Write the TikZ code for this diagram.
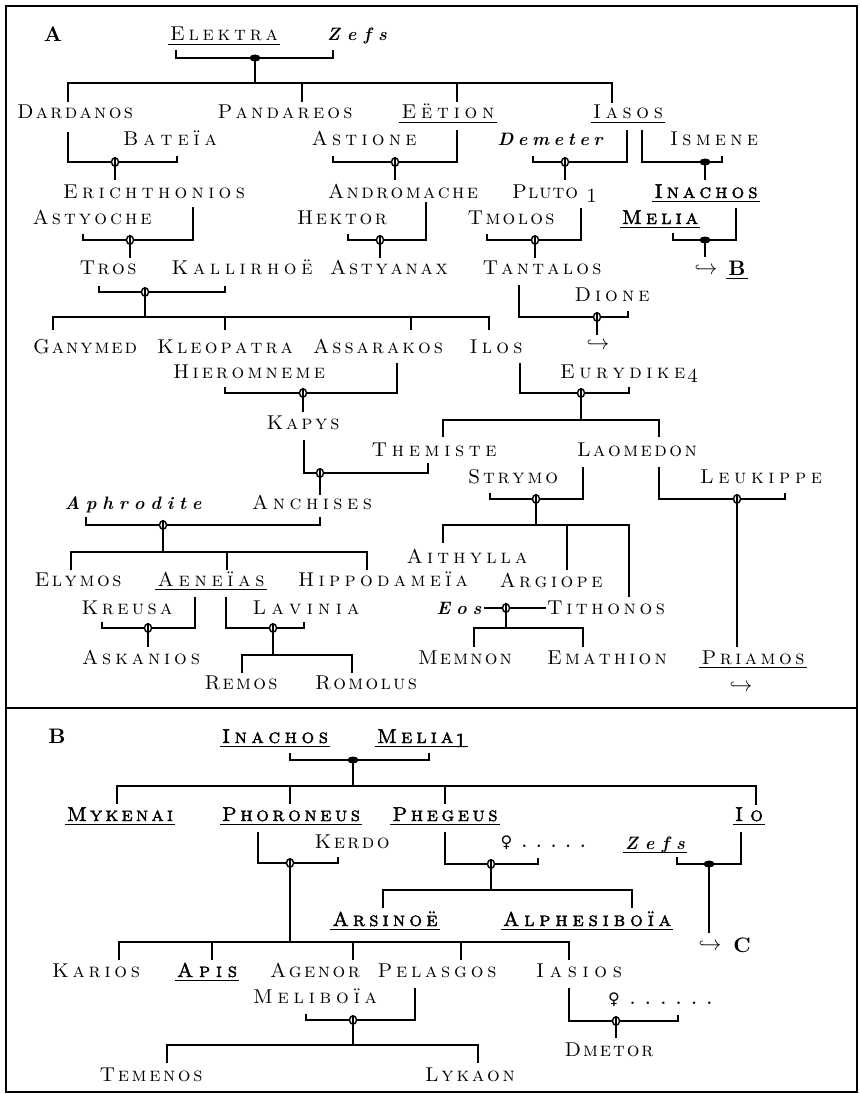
\documentclass[tikz,border=0pt]{standalone}
\usepackage{fontspec}
\usetikzlibrary{shapes.geometric}
\newfontfamily\scf{lmromancaps10-regular}[Extension=.otf]
\newfontfamily\scbf{lmromancaps10-regular}[Extension=.otf, FakeBold=2]
\newfontfamily\itbf{lmroman10-bolditalic}[Extension=.otf]
\newfontfamily\lblf{lmroman10-bold}[Extension=.otf]
\newfontfamily\dvs{DejaVu Sans}
\ExplSyntaxOn
\NewDocumentCommand\sprd{mm}{\makebox[#1pt][s]{\tl_map_inline:nn{#2}{##1\hfil}\unskip}}
\ExplSyntaxOff
\tikzset{
 nm/.style={inner sep=0pt, anchor=base, font=\fontsize{20}{22}\selectfont\scf},
 nmb/.style={nm, font=\fontsize{20}{22}\selectfont\scbf},
 itn/.style={nm, font=\fontsize{18}{20}\selectfont\itbf},
 lbl/.style={nm, font=\fontsize{21}{24}\selectfont\lblf},
 arr/.style={nm, font=\fontsize{21}{24}\selectfont},
 fem/.style={nm, font=\fontsize{16}{18}\selectfont\lblf},
 ln/.style={line width=1.8pt},
 boxline/.style={line width=2.6pt},
 ulin/.style={line width=1.4pt},
 mar/.style={ellipse, draw, fill=white, line width=1.4pt, inner sep=0pt, minimum width=7pt, minimum height=8.5pt},
 marf/.style={ellipse, fill=black, inner sep=0pt, minimum width=11pt, minimum height=7pt},
}
\begin{document}
\begin{tikzpicture}[x=1pt,y=-1pt]
\useasboundingbox[fill=white] (0,0) rectangle (859,1094);
\draw[boxline] (6,6) rectangle (857,1092);
\draw[boxline] (6,708) -- (857,708);

% ---------------- Panel A: names
\node[lbl] (labA) at (53,42) {A};
\node[nm] (elektra) at (224,41) {\sprd{108}{Elektra}};
\node[itn] (zefsA) at (357,41) {\sprd{60}{Zefs}};
\node[nm] (dardanos) at (75,119) {\sprd{116}{Dardanos}};
\node[nm] (pandareos) at (285,119) {\sprd{135}{Pandareos}};
\node[nm] (eetion) at (448,119) {\sprd{93}{Eëtion}};
\node[nm] (iasos) at (628,119) {\sprd{70}{Iasos}};
\node[nm] (bateia) at (170,146) {\sprd{94}{Bateïa}};
\node[nm] (astione) at (364,146) {\sprd{105}{Astione}};
\node[itn] (demeter) at (550,146) {\sprd{105}{Demeter}};
\node[nm] (ismene) at (714,146) {\sprd{88}{Ismene}};
\node[nm] (erichthonios) at (154,198) {\sprd{182}{Erichthonios}};
\node[nm] (andromache) at (403,198) {\sprd{150}{Andromache}};
\node[nm, anchor=base west] (pluto) at (512,198) {\sprd{66}{Pluto}\kern8pt\raisebox{-4pt}{1}};
\node[nmb] (inachosA) at (706,198) {\sprd{103}{Inachos}};
\node[nm] (astyoche) at (92,224) {\sprd{119}{Astyoche}};
\node[nm] (hektor) at (342,224) {\sprd{90}{Hektor}};
\node[nm] (tmolos) at (511,224) {\sprd{87}{Tmolos}};
\node[nmb] (meliaA) at (660,224) {\sprd{76}{Melia}};
\node[nm] (tros) at (108,274) {\sprd{57}{Tros}};
\node[nm] (kallirhoe) at (242,274) {\sprd{141}{Kallirhoë}};
\node[nm] (astyanax) at (389,274) {\sprd{118}{Astyanax}};
\node[nm] (tantalos) at (542,274) {\sprd{119}{Tantalos}};
\node[arr] (arrB) at (706,274) {$\hookrightarrow$};
\node[lbl] (toB) at (737,275) {B};
\node[nm] (dione) at (612,301) {\sprd{75}{Dione}};
\node[arr] (arrD) at (598,349) {$\hookrightarrow$};
\node[nm] (ganymed) at (85,353) {\sprd{104}{Ganymed}};
\node[nm] (kleopatra) at (225,353) {\sprd{136}{Kleopatra}};
\node[nm] (assarakos) at (378,353) {\sprd{130}{Assarakos}};
\node[nm] (ilos) at (496,353) {\sprd{53}{Ilos}};
\node[nm] (hieromneme) at (249,378) {\sprd{152}{Hieromneme}};
\node[nm, anchor=base west] (eurydike) at (560,378) {\sprd{125}{Eurydike}\kern2pt\raisebox{-4pt}{4}};
\node[nm] (kapys) at (303,429) {\sprd{73}{Kapys}};
\node[nm] (themiste) at (434,456) {\sprd{125}{Themiste}};
\node[nm] (laomedon) at (637,456) {\sprd{120}{Laomedon}};
\node[nm] (strymo) at (513,483) {\sprd{90}{Strymo}};
\node[nm] (leukippe) at (761,483) {\sprd{122}{Leukippe}};
\node[itn] (aphrodite) at (133,509) {\sprd{137}{Aphrodite}};
\node[nm] (anchises) at (312,509) {\sprd{120}{Anchises}};
\node[nm] (aithylla) at (467,563) {\sprd{121}{Aithylla}};
\node[nm] (elymos) at (78,586) {\sprd{87}{Elymos}};
\node[nm] (aeneias) at (211,586) {\sprd{107}{Aeneïas}};
\node[nm] (hippodameia) at (383,586) {\sprd{170}{Hippodameïa}};
\node[nm] (argiope) at (551,587) {\sprd{103}{Argiope}};
\node[nm] (kreusa) at (127,614) {\sprd{91}{Kreusa}};
\node[nm] (lavinia) at (306,614) {\sprd{107}{Lavinia}};
\node[itn] (eos) at (459,614) {\sprd{45}{Eos}};
\node[nm] (tithonos) at (606,614) {\sprd{118}{Tithonos}};
\node[nm] (askanios) at (141,664) {\sprd{118}{Askanios}};
\node[nm] (memnon) at (465,664) {\sprd{94}{Memnon}};
\node[nm] (emathion) at (607,664) {\sprd{120}{Emathion}};
\node[nm] (priamos) at (753,664) {\sprd{103}{Priamos}};
\node[arr] (arrP) at (741,691) {$\hookrightarrow$};
\node[nm] (remos) at (241,689) {\sprd{73}{Remos}};
\node[nm] (romolus) at (366,689) {\sprd{102}{Romolus}};

% ---------------- Panel A: connectors
\draw[ln] (176,50) -- (176,58) -- (333,58) -- (333,50);
\node[marf] (mA1) at (255,58) {};
\draw[ln] (mA1.center) -- (255,83);
\draw[ln] (68,102) -- (68,83) -- (612,83) -- (612,103);
\draw[ln] (302,83) -- (302,102);
\draw[ln] (457,83) -- (457,102);

\draw[ln] (68,132) -- (68,162) -- (177,162) -- (177,156);
\node[mar] (mA2) at (115,162) {};
\draw[ln] (mA2.north) -- (115,180);

\draw[ln] (333,156) -- (333,162) -- (457,162) -- (457,130);
\node[mar] (mA3) at (395,162) {};
\draw[ln] (mA3.north) -- (395,180);

\draw[ln] (533,156) -- (533,162) -- (627,162) -- (627,130);
\node[mar] (mA4) at (565,162) {};
\draw[ln] (mA4.north) -- (565,180);

\draw[ln] (642,130) -- (642,162) -- (722,162) -- (722,156);
\node[marf] (mA5) at (705,162) {};
\draw[ln] (mA5.center) -- (705,180);

\draw[ln] (83,234) -- (83,240) -- (193,240) -- (193,207);
\node[mar] (mA6) at (130,240) {};
\draw[ln] (mA6.north) -- (130,258);

\draw[ln] (348,234) -- (348,240) -- (426,240) -- (426,202);
\node[mar] (mA7) at (380,240) {};
\draw[ln] (mA7.north) -- (380,258);

\draw[ln] (487,234) -- (487,240) -- (581,240) -- (581,208);
\node[mar] (mA8) at (535,240) {};
\draw[ln] (mA8.north) -- (535,258);

\draw[ln] (673,233) -- (673,240) -- (736,240) -- (736,208);
\node[marf] (mA9) at (705,240) {};
\draw[ln] (mA9.center) -- (705,257);

\draw[ln] (99,286) -- (99,292) -- (225,292) -- (225,286);
\node[mar] (mA10) at (145,292) {};
\draw[ln] (mA10.north) -- (145,317);
\draw[ln] (53,330) -- (53,317) -- (489,317) -- (489,330);
\draw[ln] (225,317) -- (225,330);
\draw[ln] (411,317) -- (411,330);

\draw[ln] (519,285) -- (519,317) -- (628,317) -- (628,311);
\node[mar] (mA11) at (597,317) {};
\draw[ln] (mA11.north) -- (597,335);

\draw[ln] (225,387) -- (225,393) -- (397,393) -- (397,363);
\node[mar] (mA12) at (303,393) {};
\draw[ln] (mA12.north) -- (303,412);

\draw[ln] (520,363) -- (520,393) -- (629,393) -- (629,387);
\node[mar] (mA13) at (581,393) {};
\draw[ln] (mA13.north) -- (581,420);
\draw[ln] (443,437) -- (443,420) -- (659,420) -- (659,437);

\draw[ln] (304,440) -- (304,473) -- (428,473) -- (428,463);
\node[mar] (mA14) at (320,473) {};
\draw[ln] (mA14.north) -- (320,495);

\draw[ln] (490,493) -- (490,499) -- (583,499) -- (583,467);
\node[mar] (mA15) at (536,499) {};
\draw[ln] (mA15.north) -- (536,525);
\draw[ln] (443,543) -- (443,525) -- (629,525) -- (629,597);
\draw[ln] (567,525) -- (567,570);

\draw[ln] (659,467) -- (659,499) -- (785,499) -- (785,493);
\node[mar] (mA16) at (737,499) {};
\draw[ln] (mA16.north) -- (737,647);

\draw[ln] (86,517) -- (86,525) -- (320,525) -- (320,517);
\node[mar] (mA17) at (163,525) {};
\draw[ln] (mA17.north) -- (163,552);
\draw[ln] (71,570) -- (71,552) -- (367,552) -- (367,570);
\draw[ln] (227,552) -- (227,570);

\draw[ln] (102,622) -- (102,628) -- (195,628) -- (195,597);
\node[mar] (mA18) at (148,628) {};
\draw[ln] (mA18.north) -- (148,647);

\draw[ln] (226,597) -- (226,628) -- (304,628) -- (304,622);
\node[mar] (mA19) at (273,628) {};
\draw[ln] (mA19.north) -- (273,655);
\draw[ln] (242,673) -- (242,655) -- (352,655) -- (352,673);

\draw[ln] (484,608) -- (546,608);
\node[mar] (mA20) at (506,608) {};
\draw[ln] (mA20.north) -- (506,628);
\draw[ln] (474,647) -- (474,628) -- (583,628) -- (583,647);

% ---------------- Panel B: names
\node[lbl] (labB) at (57,743) {B};
\node[nmb] (inachosB) at (275,743) {\sprd{106}{Inachos}};
\node[nmb, anchor=base west] (meliaB) at (377,743) {\sprd{76}{Melia}\kern2pt\raisebox{-4pt}{1}};
\node[nmb] (mykenai) at (120,821) {\sprd{106}{Mykenai}};
\node[nmb] (phoroneus) at (291,821) {\sprd{138}{Phoroneus}};
\node[nmb] (phegeus) at (445,821) {\sprd{105}{Phegeus}};
\node[nmb] (io) at (749,821) {\sprd{28}{Io}};
\node[nm] (kerdo) at (352,848) {\sprd{75}{Kerdo}};
\node[fem] (fem1) at (543,847) {\makebox[85pt][s]{{\dvs ♀}\hfil.\hfil.\hfil.\hfil.\hfil.}};
\node[itn] (zefsB) at (655,849) {\sprd{60}{Zefs}};
\node[nmb] (arsinoe) at (385,926) {\sprd{105}{Arsinoë}};
\node[nmb] (alphesiboia) at (587,926) {\sprd{168}{Alphesiboïa}};
\node[arr] (arrC) at (710,950) {$\hookrightarrow$};
\node[lbl] (toC) at (742,952) {C};
\node[nm] (karios) at (96,977) {\sprd{88}{Karios}};
\node[nmb] (apis) at (207,977) {\sprd{60}{Apis}};
\node[nm] (agenor) at (315,977) {\sprd{90}{Agenor}};
\node[nm] (pelasgos) at (437,977) {\sprd{119}{Pelasgos}};
\node[nm] (iasios) at (579,977) {\sprd{86}{Iasios}};
\node[nm] (meliboia) at (315,1003) {\sprd{124}{Meliboïa}};
\node[fem] (fem2) at (660,1004) {\makebox[104pt][s]{{\dvs ♀}\hfil.\hfil.\hfil.\hfil.\hfil.\hfil.}};
\node[nm] (dmetor) at (609,1056) {\sprd{89}{Dmetor}};
\node[nm] (temenos) at (151,1081) {\sprd{103}{Temenos}};
\node[nm] (lykaon) at (470,1081) {\sprd{90}{Lykaon}};

% ---------------- Panel B: connectors
\draw[ln] (290,753) -- (290,760) -- (429,760) -- (429,753);
\node[marf] (mB1) at (353,760) {};
\draw[ln] (mB1.center) -- (353,786);
\draw[ln] (117,804) -- (117,786) -- (756,786) -- (756,805);
\draw[ln] (290,786) -- (290,804);
\draw[ln] (445,786) -- (445,804);

\draw[ln] (258,832) -- (258,863) -- (338,863) -- (338,857);
\node[mar] (mB2) at (290,863) {};
\draw[ln] (mB2.north) -- (290,942);
\draw[ln] (119,960) -- (119,942) -- (569,942) -- (569,960);
\foreach \xx in {212,353,461} \draw[ln] (\xx,942) -- (\xx,960);

\draw[ln] (445,832) -- (445,864) -- (538,864) -- (538,858);
\node[mar] (mB3) at (491,864) {};
\draw[ln] (mB3.north) -- (491,890);
\draw[ln] (383,908) -- (383,890) -- (632,890) -- (632,908);

\draw[ln] (677,857) -- (677,864) -- (741,864) -- (741,832);
\node[marf] (mB4) at (709,864) {};
\draw[ln] (mB4.center) -- (709,933);

\draw[ln] (306,1014) -- (306,1020) -- (415,1020) -- (415,988);
\node[mar] (mB5) at (353,1020) {};
\draw[ln] (mB5.north) -- (353,1045);
\draw[ln] (167,1063) -- (167,1045) -- (478,1045) -- (478,1063);

\draw[ln] (569,988) -- (569,1021) -- (678,1021) -- (678,1015);
\node[mar] (mB6) at (616,1021) {};
\draw[ln] (mB6.north) -- (616,1038);

% ---------------- underlines
\foreach \n in {elektra,eetion,iasos,inachosA,meliaA,toB,aeneias,priamos,inachosB,meliaB,mykenai,phoroneus,phegeus,io,zefsB,arsinoe,alphesiboia,apis}
  \draw[ulin] ([xshift=-2pt,yshift=-3.5pt]\n.base west) -- ([xshift=2pt,yshift=-3.5pt]\n.base east);
\end{tikzpicture}
\end{document}
